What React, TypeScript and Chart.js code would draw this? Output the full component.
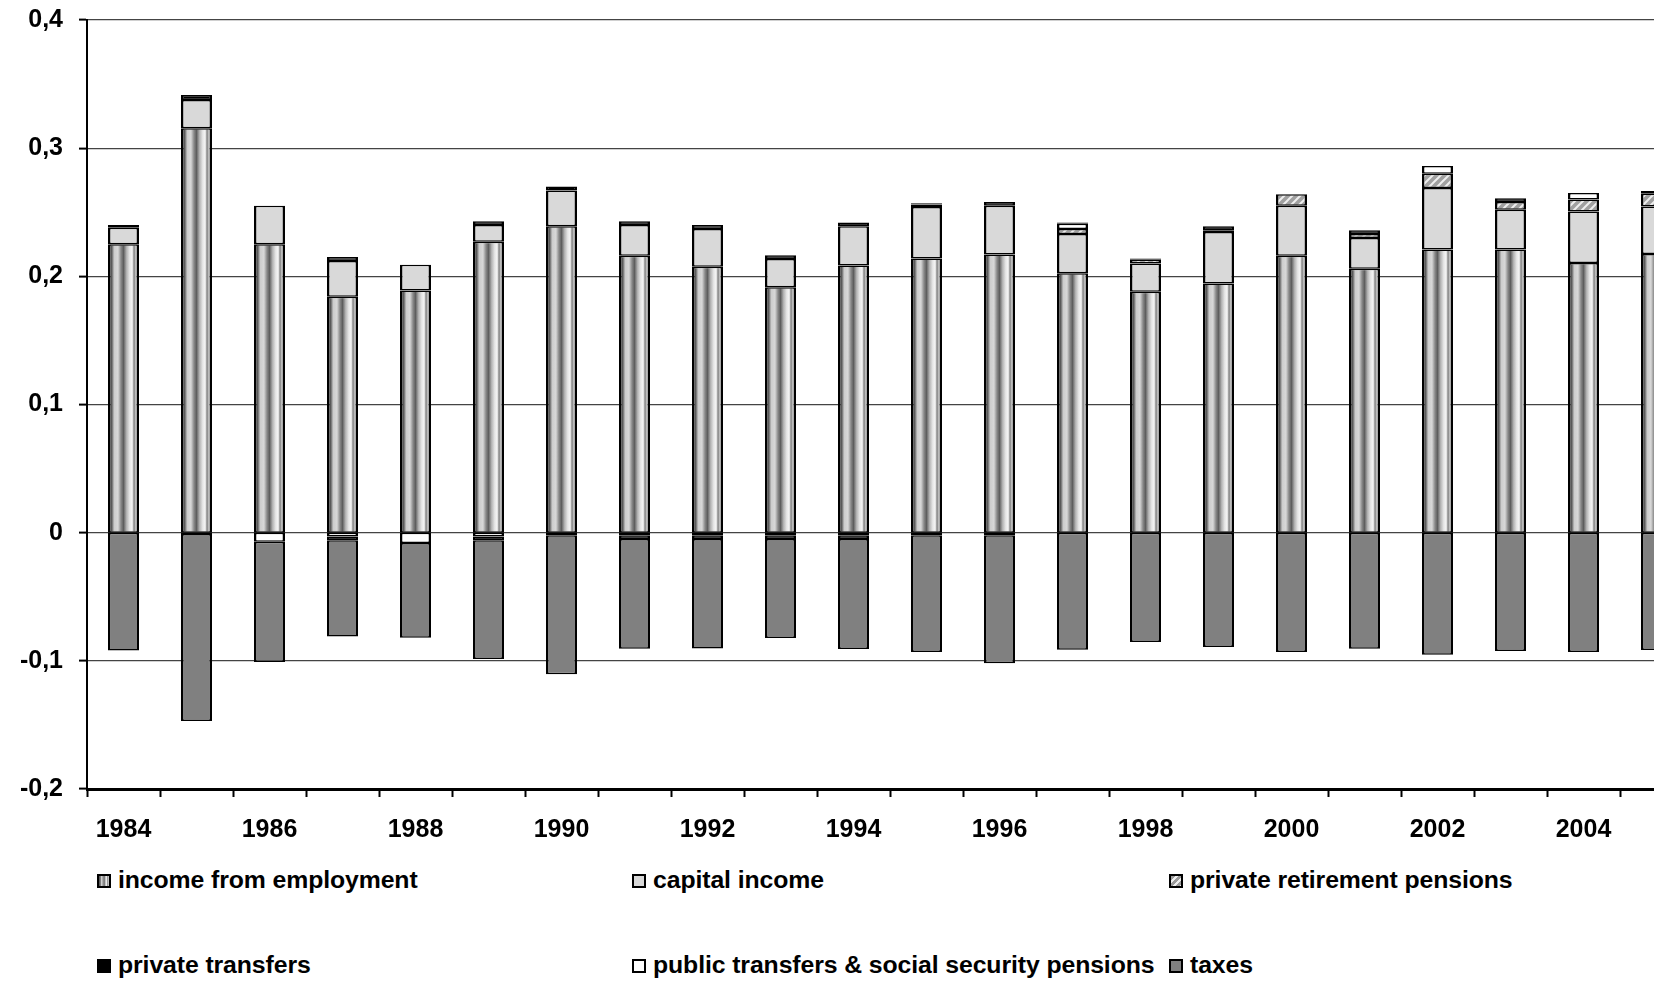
import React, { useEffect, useRef } from 'react';
import { Chart, registerables } from 'chart.js';

Chart.register(...registerables);

const years = ['1984', '1985', '1986', '1987', '1988', '1989', '1990', '1991', '1992', '1993', '1994',
  '1995', '1996', '1997', '1998', '1999', '2000', '2001', '2002', '2003', '2004', '2005'];

const incomeFromEmployment = [0.225, 0.3155, 0.225, 0.184, 0.189, 0.227, 0.239, 0.216, 0.2075, 0.1915, 0.2085,
  0.214, 0.217, 0.2025, 0.188, 0.1945, 0.216, 0.206, 0.221, 0.221, 0.2105, 0.2175];
const capitalIncome = [0.013, 0.022, 0.030, 0.028, 0.020, 0.013, 0.028, 0.024, 0.0295, 0.022, 0.0305,
  0.040, 0.038, 0.0305, 0.022, 0.040, 0.039, 0.024, 0.048, 0.031, 0.040, 0.037];
const privateRetirementPensions = [0, 0, 0, 0, 0, 0, 0, 0, 0, 0, 0,
  0.002, 0, 0.004, 0.003, 0.0015, 0.009, 0.003, 0.011, 0.006, 0.0095, 0.010];
const publicTransfers = [0, 0, -0.007, -0.003, -0.008, -0.003, 0, -0.002, -0.002, -0.002, -0.002,
  -0.001, 0, 0.004, 0, 0, 0, 0, 0.006, 0, 0.005, 0.002];
const privateTransfersReceived = [0.002, 0.004, 0, 0.003, 0, 0.003, 0.003, 0.003, 0.003, 0.003, 0.003,
  0.001, 0.003, 0.001, 0.001, 0.003, 0, 0.003, 0, 0.003, 0, 0];
const privateTransfersPaid = [0, -0.001, 0, -0.003, 0, -0.003, -0.002, -0.003, -0.003, -0.003, -0.003,
  -0.001, -0.002, 0, 0, 0, 0, 0, 0, 0, 0, 0];
const taxes = [-0.092, -0.146, -0.094, -0.075, -0.074, -0.0925, -0.1085, -0.0855, -0.0853, -0.0772, -0.0858,
  -0.0911, -0.0999, -0.0913, -0.0853, -0.0892, -0.0931, -0.0905, -0.0952, -0.0923, -0.0931, -0.0915];

const yTickValues = [-0.2, -0.1, 0, 0.1, 0.2, 0.3, 0.4];
const yTickLabels = ['-0,2', '-0,1', '0', '0,1', '0,2', '0,3', '0,4'];

const legendLabels = [
  'income from employment',
  'capital income',
  'private retirement pensions',
  'private transfers',
  'public transfers & social security pensions',
  'taxes',
];

const FONT = '"Liberation Sans", Arial, Helvetica, sans-serif';

const legendSwatches = [
  'linear-gradient(to right, #555 0%, #666 12%, #d0d0d0 25%, #8a8a8a 45%, #6a6a6a 52%, #d8d8d8 68%, #f2f2f2 78%, #8a8a8a 86%, #dcdcdc 100%)',
  '#d9d9d9',
  'repeating-linear-gradient(135deg, #9a9a9a 0px, #9a9a9a 3px, #eeeeee 3px, #eeeeee 5px)',
  '#000000',
  '#ffffff',
  '#808080',
];

const legendPos = [
  { left: 89, top: 857 },
  { left: 624, top: 857 },
  { left: 1161, top: 857 },
  { left: 89, top: 942 },
  { left: 624, top: 942 },
  { left: 1161, top: 942 },
];

export default function App() {
  const ref = useRef<HTMLCanvasElement>(null);

  useEffect(() => {
    document.documentElement.style.overflow = 'hidden';
    const canvas = ref.current!;
    const ctx = canvas.getContext('2d')!;

    const pc = document.createElement('canvas');
    pc.width = 8;
    pc.height = 8;
    const p = pc.getContext('2d')!;
    p.fillStyle = '#a0a0a0';
    p.fillRect(0, 0, 8, 8);
    p.strokeStyle = '#eeeeee';
    p.lineWidth = 2;
    p.beginPath();
    p.moveTo(0, 8); p.lineTo(8, 0);
    p.moveTo(-2, 2); p.lineTo(2, -2);
    p.moveTo(6, 10); p.lineTo(10, 6);
    p.stroke();
    const hatch = ctx.createPattern(pc, 'repeat') || '#aaaaaa';

    const barPct = 0.425;

    const empFill = (c: any) => {
      const chart = c.chart;
      const xs = chart.scales && chart.scales.x;
      if (!xs || typeof c.dataIndex !== 'number' || !chart.chartArea) return '#a0a0a0';
      const cx = xs.getPixelForValue(c.dataIndex);
      const half = (xs.width / years.length) * barPct / 2;
      const g = chart.ctx.createLinearGradient(cx - half, 0, cx + half, 0);
      g.addColorStop(0, '#4a4a4a');
      g.addColorStop(0.12, '#5a5a5a');
      g.addColorStop(0.2, '#cccccc');
      g.addColorStop(0.32, '#d8d8d8');
      g.addColorStop(0.42, '#888888');
      g.addColorStop(0.5, '#5e5e5e');
      g.addColorStop(0.6, '#b4b4b4');
      g.addColorStop(0.7, '#e6e6e6');
      g.addColorStop(0.78, '#f6f6f6');
      g.addColorStop(0.84, '#808080');
      g.addColorStop(0.9, '#cccccc');
      g.addColorStop(1, '#e2e2e2');
      return g;
    };

    const common = {
      borderColor: '#000000',
      borderWidth: { top: 1.5, bottom: 1.5, left: 2.5, right: 2.5 },
      borderSkipped: false,
      barPercentage: barPct,
      categoryPercentage: 1,
    };

    const tickFont = { family: FONT, size: 25, weight: 'bold' as const };

    const chart = new Chart(canvas, {
      type: 'bar',
      data: {
        labels: years,
        datasets: [
          { label: legendLabels[0], data: incomeFromEmployment, backgroundColor: empFill, ...common },
          { label: legendLabels[1], data: capitalIncome, backgroundColor: '#d9d9d9', ...common },
          { label: legendLabels[2], data: privateRetirementPensions, backgroundColor: hatch, ...common },
          { label: legendLabels[4], data: publicTransfers, backgroundColor: '#ffffff', ...common },
          { label: legendLabels[3], data: privateTransfersReceived, backgroundColor: '#000000', ...common },
          { label: legendLabels[3], data: privateTransfersPaid, backgroundColor: '#000000', ...common },
          { label: legendLabels[5], data: taxes, backgroundColor: '#808080', ...common },
        ] as any,
      },
      options: {
        responsive: false,
        animation: false,
        devicePixelRatio: 1,
        events: [],
        layout: { padding: { top: 12, right: 15, bottom: 0, left: 0 } },
        plugins: {
          legend: { display: false },
          tooltip: { enabled: false },
          title: { display: false },
        },
        scales: {
          x: {
            stacked: true,
            offset: true,
            grid: {
              display: true,
              drawOnChartArea: false,
              drawTicks: true,
              tickLength: 8,
              tickColor: '#000000',
              tickWidth: 2,
              offset: true,
            },
            border: { display: true, color: '#000000', width: 3 },
            ticks: {
              autoSkip: false,
              maxRotation: 0,
              minRotation: 0,
              padding: 18,
              color: '#000000',
              font: tickFont,
              callback: (_v: any, i: number) => (i % 2 === 0 ? years[i] : ''),
            },
            afterFit: (s: any) => {
              s.height = 58;
              s.paddingLeft = 0;
              s.paddingRight = 0;
            },
          },
          y: {
            stacked: true,
            min: -0.2,
            max: 0.4,
            ticks: {
              stepSize: 0.1,
              padding: 16,
              color: '#000000',
              font: tickFont,
              callback: (v: any) => {
                const i = yTickValues.findIndex((t) => Math.abs(t - Number(v)) < 1e-9);
                return i >= 0 ? yTickLabels[i] : '';
              },
            },
            grid: {
              color: '#444444',
              lineWidth: 1.2,
              tickColor: '#000000',
              tickLength: 8,
              tickWidth: 2,
            },
            border: { display: true, color: '#000000', width: 2 },
            afterFit: (s: any) => {
              s.width = 79;
              s.paddingTop = 0;
              s.paddingBottom = 0;
            },
          },
        },
      } as any,
    });

    return () => chart.destroy();
  }, []);

  return (
    <div style={{ position: 'relative', width: 1654, height: 973, overflow: 'hidden' }}>
      <canvas ref={ref} width={1700} height={839} style={{ display: 'block', width: 1700, height: 839 }} />
      {legendLabels.map((lab, i) => (
        <div
          key={lab}
          style={{
            position: 'absolute',
            left: legendPos[i].left,
            top: legendPos[i].top,
            height: 30,
            display: 'flex',
            alignItems: 'center',
            whiteSpace: 'nowrap',
            fontFamily: FONT,
            fontWeight: 'bold',
            fontSize: 24.8,
            letterSpacing: -0.1,
            color: '#000',
          }}
        >
          <span
            style={{
              display: 'inline-block',
              width: 10,
              height: 10,
              border: '2px solid #000',
              background: legendSwatches[i],
              marginRight: 7,
              marginTop: 2,
            }}
          />
          <span>{lab}</span>
        </div>
      ))}
    </div>
  );
}
